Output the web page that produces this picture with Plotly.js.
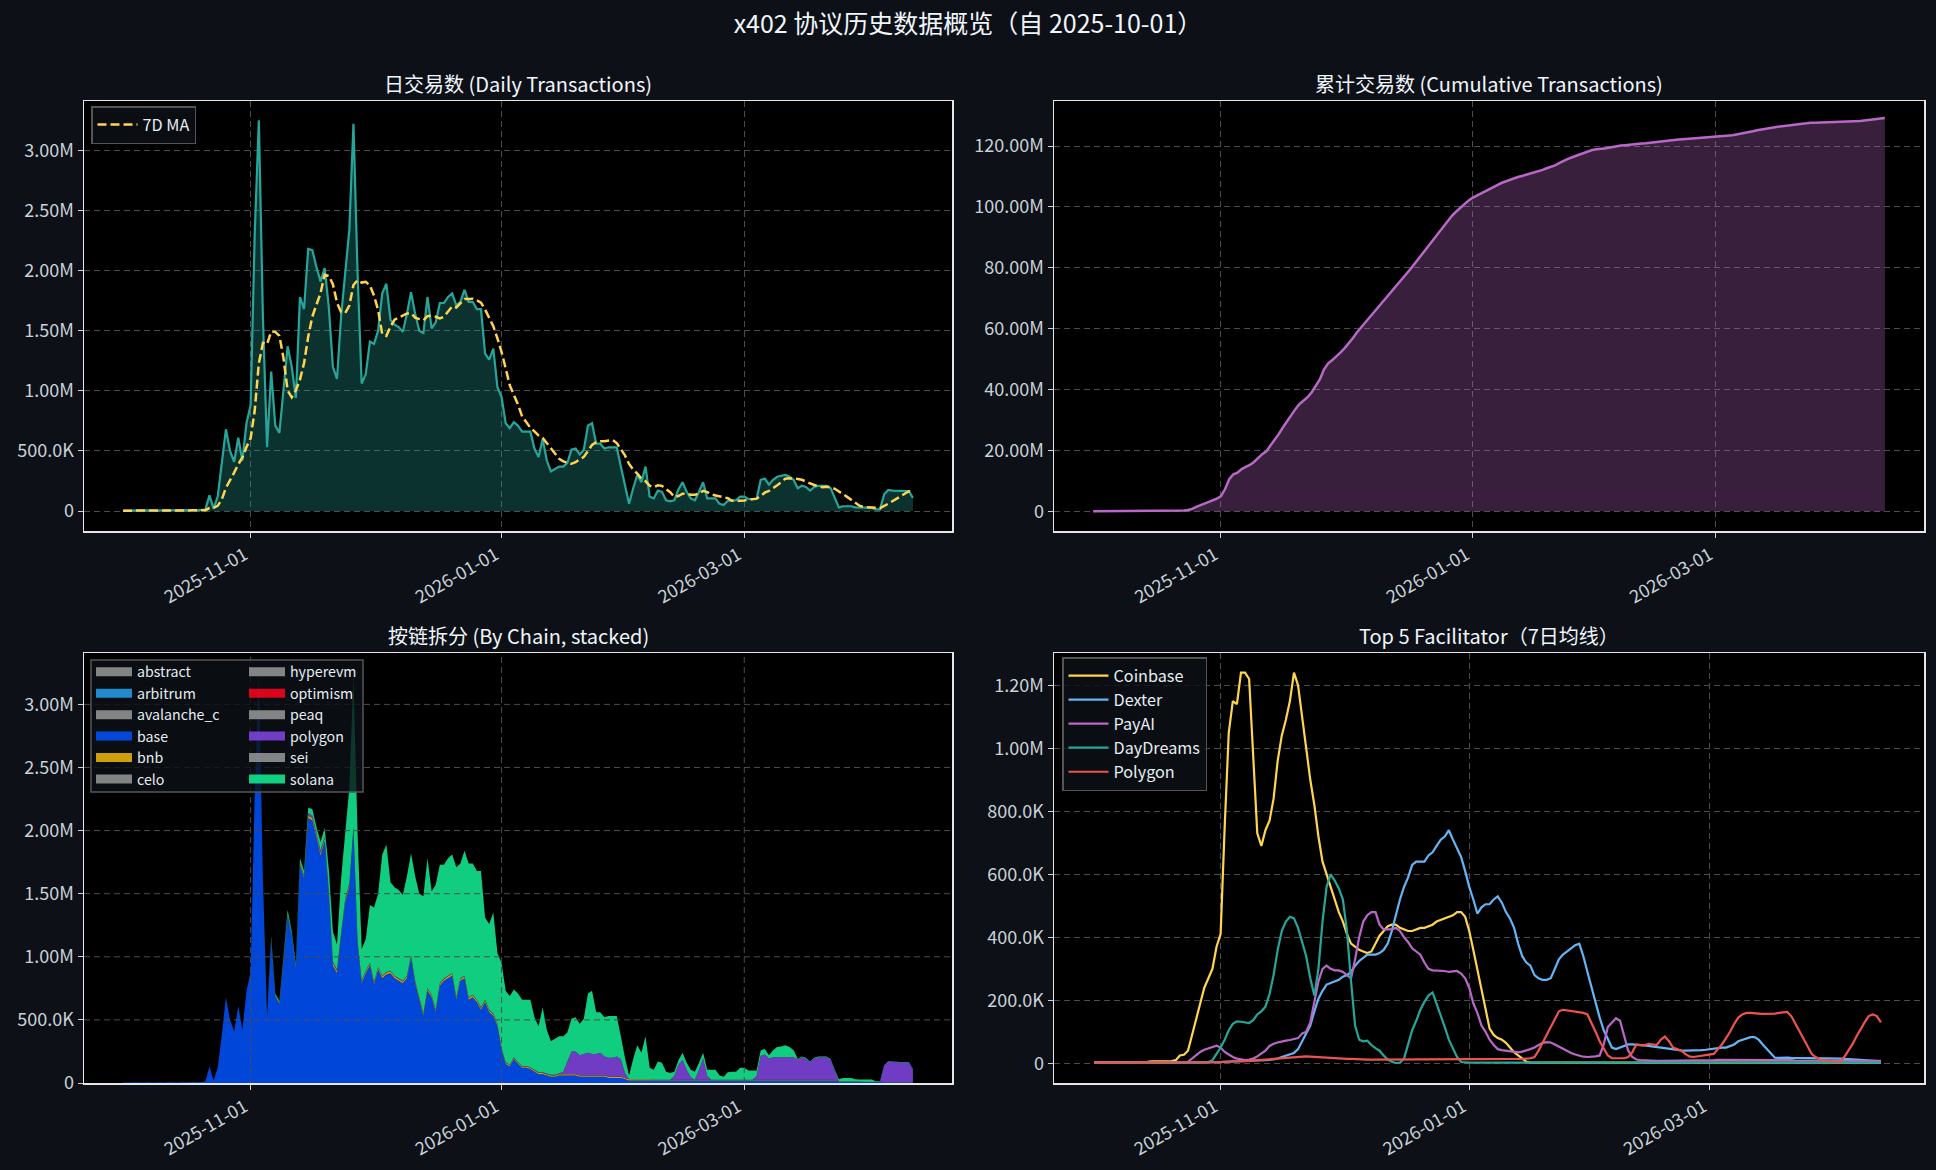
<!DOCTYPE html>
<html>
<head>
<meta charset="utf-8">
<script src="https://cdn.plot.ly/plotly-3.0.1.min.js"></script>
<style>
html,body{margin:0;padding:0;background:#0d1117;}
#chart{width:1936px;height:1170px;}
</style>
</head>
<body>
<div id="chart"></div>
<script>
// ---------------- DATA (values in millions of transactions) ----------------
const startDate = '2025-10-01';

// daily total transactions, 2025-10-01 .. 2026-04-11
const dailyTx = [
0.003,0.004,0.003,0.005,0.004,0.004,0.005,0.003,0.004,0.005,
0.004,0.006,0.005,0.004,0.006,0.005,0.006,0.007,0.006,0.008,
0.012,0.13,0.02,0.12,0.38,0.68,0.50,0.41,0.61,0.42,
0.73,0.88,2.30,3.25,1.60,0.53,1.16,0.71,0.65,1.00,
1.37,1.20,0.94,1.78,1.68,2.18,2.17,2.03,1.91,2.02,
1.70,1.20,1.10,1.62,1.98,2.34,3.22,1.98,1.06,1.14,
1.41,1.39,1.50,1.81,1.89,1.59,1.55,1.53,1.49,1.64,
1.82,1.64,1.50,1.48,1.78,1.52,1.57,1.73,1.73,1.78,
1.81,1.71,1.74,1.84,1.74,1.74,1.68,1.68,1.31,1.26,
1.35,1.03,0.95,0.73,0.69,0.74,0.71,0.66,0.66,0.66,
0.52,0.45,0.60,0.42,0.33,0.35,0.37,0.37,0.40,0.51,
0.52,0.47,0.51,0.71,0.73,0.56,0.56,0.52,0.53,0.53,
0.53,0.37,0.20,0.06,0.19,0.30,0.24,0.37,0.12,0.105,
0.17,0.16,0.09,0.08,0.09,0.18,0.24,0.16,0.105,0.09,
0.16,0.24,0.105,0.105,0.105,0.06,0.05,0.085,0.09,0.09,
0.12,0.12,0.10,0.10,0.10,0.26,0.27,0.22,0.26,0.285,
0.29,0.30,0.285,0.26,0.19,0.21,0.20,0.17,0.20,0.21,
0.21,0.21,0.19,0.105,0.03,0.04,0.04,0.04,0.03,0.028,
0.028,0.028,0.028,0.014,0.014,0.14,0.175,0.17,0.168,0.166,
0.166,0.166,0.11];

// by chain (stacked)
const baseTx = [
0.003,0.004,0.003,0.005,0.004,0.004,0.005,0.003,0.004,0.005,
0.004,0.006,0.005,0.004,0.006,0.005,0.006,0.007,0.006,0.008,
0.012,0.13,0.02,0.12,0.38,0.68,0.50,0.41,0.61,0.42,
0.73,0.88,2.30,3.23,1.58,0.52,1.14,0.69,0.63,0.97,
1.33,1.17,0.91,1.73,1.62,2.10,2.08,1.95,1.80,1.92,
1.50,0.93,0.87,1.16,1.43,1.55,2.00,1.10,0.79,0.87,
0.93,0.78,0.90,0.83,0.86,0.87,0.83,0.81,0.79,0.83,
0.99,0.79,0.66,0.53,0.73,0.68,0.56,0.77,0.81,0.83,
0.85,0.66,0.81,0.83,0.66,0.68,0.64,0.58,0.64,0.56,
0.53,0.45,0.26,0.15,0.13,0.19,0.15,0.12,0.12,0.11,
0.09,0.07,0.07,0.06,0.05,0.05,0.06,0.06,0.06,0.06,
0.06,0.05,0.05,0.05,0.05,0.05,0.05,0.05,0.04,0.04,
0.04,0.04,0.03,0.02,0.02,0.02,0.02,0.02,0.02,0.02,
0.02,0.02,0.02,0.02,0.02,0.02,0.02,0.02,0.02,0.02,
0.02,0.02,0.02,0.02,0.02,0.02,0.02,0.02,0.02,0.02,
0.02,0.02,0.02,0.02,0.02,0.02,0.02,0.02,0.02,0.02,
0.02,0.02,0.02,0.02,0.02,0.02,0.02,0.02,0.02,0.02,
0.02,0.02,0.02,0.02,0.01,0.01,0.01,0.01,0.01,0.01,
0.008,0.008,0.008,0.008,0.008,0.005,0.005,0.005,0.005,0.005,
0.005,0.005,0.005];

const bnbTx = [
0,0,0,0,0,0,0,0,0,0,
0,0,0,0,0,0,0,0,0,0,
0,0,0,0,0,0,0,0,0,0,
0,0,0,0.01,0.01,0.01,0.01,0.01,0.01,0.01,
0.01,0.01,0.01,0.015,0.015,0.02,0.02,0.02,0.02,0.02,
0.02,0.02,0.02,0.02,0.02,0.02,0.02,0.02,0.015,0.015,
0.015,0.015,0.015,0.015,0.015,0.015,0.015,0.015,0.015,0.015,
0.015,0.015,0.015,0.015,0.015,0.015,0.015,0.015,0.015,0.015,
0.015,0.015,0.015,0.015,0.015,0.015,0.015,0.015,0.015,0.015,
0.015,0.015,0.01,0.01,0.01,0.01,0.01,0.01,0.01,0.01,
0.01,0.01,0.01,0.01,0.01,0.01,0.01,0.01,0.01,0.01,
0.01,0.01,0.01,0.01,0.01,0.01,0.01,0.01,0.01,0.01,
0.01,0.01,0.01,0.01,0.01,0.01,0.01,0.01,0.01,0.005,
0.005,0.005,0.005,0.005,0.005,0.005,0.005,0.005,0.005,0.005,
0.005,0.005,0.005,0.005,0.005,0.005,0.005,0.005,0.005,0.005,
0.005,0.005,0.005,0.005,0.005,0.005,0.005,0.005,0.005,0.005,
0.005,0.005,0.005,0.005,0.005,0.005,0.005,0.005,0.005,0.005,
0.005,0.005,0.005,0.005,0.002,0.002,0.002,0.002,0.002,0.002,
0.002,0.002,0.002,0.002,0.002,0.002,0.002,0.002,0.002,0.002,
0.002,0.002,0.002];

const polygonTx = [
0,0,0,0,0,0,0,0,0,0,
0,0,0,0,0,0,0,0,0,0,
0,0,0,0,0,0,0,0,0,0,
0,0,0,0,0,0,0,0,0,0,
0,0,0,0,0.01,0.02,0.02,0.01,0.02,0.01,
0.01,0.01,0.01,0.01,0.01,0.01,0.01,0.01,0.005,0.005,
0.005,0.005,0.005,0.005,0.005,0.005,0.005,0.005,0.005,0.005,
0.005,0.005,0.005,0.005,0.005,0.005,0.005,0.005,0.005,0.005,
0.005,0.005,0.005,0.005,0.005,0.005,0.005,0.005,0.005,0.005,
0.005,0.005,0.005,0.005,0.005,0.005,0.005,0.005,0.005,0.005,
0.005,0.005,0.005,0.005,0.005,0.005,0.005,0.02,0.10,0.18,
0.18,0.16,0.17,0.18,0.17,0.17,0.18,0.15,0.15,0.15,
0.16,0.14,0.04,0,0,0,0,0,0,0,
0,0,0,0,0.03,0.12,0.16,0.08,0.02,0,
0.08,0.17,0.03,0,0,0,0,0,0,0,
0,0,0,0,0.03,0.19,0.20,0.17,0.18,0.18,
0.18,0.18,0.18,0.18,0.16,0.18,0.17,0.14,0.17,0.18,
0.18,0.18,0.16,0.07,0,0,0,0,0,0,
0,0,0,0,0,0.13,0.165,0.16,0.158,0.156,
0.156,0.156,0.10];

const solanaTx = [
0,0,0,0,0,0,0,0,0,0,
0,0,0,0,0,0,0,0,0,0,
0,0,0,0,0,0,0,0,0,0,
0,0,0,0.01,0.01,0,0.01,0.01,0.01,0.02,
0.03,0.02,0.02,0.035,0.035,0.04,0.05,0.05,0.07,0.07,
0.17,0.24,0.20,0.43,0.52,0.76,1.19,0.85,0.25,0.25,
0.46,0.59,0.58,0.96,1.01,0.70,0.70,0.70,0.68,0.79,
0.81,0.83,0.82,0.93,1.03,0.82,0.99,0.94,0.90,0.93,
0.94,1.03,0.91,0.99,1.06,1.04,1.02,1.08,0.65,0.68,
0.80,0.56,0.675,0.565,0.545,0.535,0.545,0.525,0.525,0.535,
0.415,0.365,0.515,0.345,0.265,0.285,0.295,0.28,0.23,0.26,
0.27,0.25,0.28,0.47,0.50,0.33,0.32,0.31,0.33,0.33,
0.32,0.18,0.12,0.03,0.16,0.27,0.21,0.34,0.09,0.08,
0.145,0.135,0.065,0.055,0.035,0.035,0.055,0.055,0.06,0.065,
0.055,0.045,0.05,0.08,0.08,0.035,0.025,0.06,0.065,0.065,
0.095,0.095,0.075,0.075,0.045,0.045,0.045,0.025,0.055,0.08,
0.085,0.095,0.08,0.055,0.005,0.005,0.005,0.005,0.005,0.005,
0.005,0.005,0.005,0.01,0.018,0.028,0.028,0.028,0.018,0.016,
0.018,0.018,0.018,0.004,0.004,0.003,0.003,0.003,0.003,0.003,
0.003,0.003,0.003];

// chains with negligible volume
const abstractTx   = [0,0,0,0,0,0,0,0,0,0,0,0,0,0,0,0,0,0,0,0,0,0,0,0,0,0,0,0,0,0,0,0,0,0,0,0,0,0,0,0,0,0,0,0,0,0,0,0,0,0,0,0,0,0,0,0,0,0,0,0,0,0,0,0,0,0,0,0,0,0,0,0,0,0,0,0,0,0,0,0,0,0,0,0,0,0,0,0,0,0,0,0,0,0,0,0,0,0,0,0,0,0,0,0,0,0,0,0,0,0,0,0,0,0,0,0,0,0,0,0,0,0,0,0,0,0,0,0,0,0,0,0,0,0,0,0,0,0,0,0,0,0,0,0,0,0,0,0,0,0,0,0,0,0,0,0,0,0,0,0,0,0,0,0,0,0,0,0,0,0,0,0,0,0,0,0,0,0,0,0,0,0,0,0,0,0,0,0,0,0,0,0,0];
const arbitrumTx   = [0,0,0,0,0,0,0,0,0,0,0,0,0,0,0,0,0,0,0,0,0,0,0,0,0,0,0,0,0,0,0,0,0,0,0,0,0,0,0,0,0,0,0,0,0,0,0,0,0,0,0,0,0,0,0,0,0,0,0,0,0,0,0,0,0,0,0,0,0,0,0,0,0,0,0,0,0,0,0,0,0,0,0,0,0,0,0,0,0,0,0,0,0,0,0,0,0,0,0,0,0,0,0,0,0,0,0,0,0,0,0,0,0,0,0,0,0,0,0,0,0,0,0,0,0,0,0,0,0,0,0,0,0,0,0,0,0,0,0,0,0,0,0,0,0,0,0,0,0,0,0,0,0,0,0,0,0,0,0,0,0,0,0,0,0,0,0,0,0,0,0,0,0,0,0,0,0,0,0,0,0,0,0,0,0,0,0,0,0,0,0,0,0];
const avalancheTx  = [0,0,0,0,0,0,0,0,0,0,0,0,0,0,0,0,0,0,0,0,0,0,0,0,0,0,0,0,0,0,0,0,0,0,0,0,0,0,0,0,0,0,0,0,0,0,0,0,0,0,0,0,0,0,0,0,0,0,0,0,0,0,0,0,0,0,0,0,0,0,0,0,0,0,0,0,0,0,0,0,0,0,0,0,0,0,0,0,0,0,0,0,0,0,0,0,0,0,0,0,0,0,0,0,0,0,0,0,0,0,0,0,0,0,0,0,0,0,0,0,0,0,0,0,0,0,0,0,0,0,0,0,0,0,0,0,0,0,0,0,0,0,0,0,0,0,0,0,0,0,0,0,0,0,0,0,0,0,0,0,0,0,0,0,0,0,0,0,0,0,0,0,0,0,0,0,0,0,0,0,0,0,0,0,0,0,0,0,0,0,0,0,0];
const celoTx       = [0,0,0,0,0,0,0,0,0,0,0,0,0,0,0,0,0,0,0,0,0,0,0,0,0,0,0,0,0,0,0,0,0,0,0,0,0,0,0,0,0,0,0,0,0,0,0,0,0,0,0,0,0,0,0,0,0,0,0,0,0,0,0,0,0,0,0,0,0,0,0,0,0,0,0,0,0,0,0,0,0,0,0,0,0,0,0,0,0,0,0,0,0,0,0,0,0,0,0,0,0,0,0,0,0,0,0,0,0,0,0,0,0,0,0,0,0,0,0,0,0,0,0,0,0,0,0,0,0,0,0,0,0,0,0,0,0,0,0,0,0,0,0,0,0,0,0,0,0,0,0,0,0,0,0,0,0,0,0,0,0,0,0,0,0,0,0,0,0,0,0,0,0,0,0,0,0,0,0,0,0,0,0,0,0,0,0,0,0,0,0,0,0];
const hyperevmTx   = [0,0,0,0,0,0,0,0,0,0,0,0,0,0,0,0,0,0,0,0,0,0,0,0,0,0,0,0,0,0,0,0,0,0,0,0,0,0,0,0,0,0,0,0,0,0,0,0,0,0,0,0,0,0,0,0,0,0,0,0,0,0,0,0,0,0,0,0,0,0,0,0,0,0,0,0,0,0,0,0,0,0,0,0,0,0,0,0,0,0,0,0,0,0,0,0,0,0,0,0,0,0,0,0,0,0,0,0,0,0,0,0,0,0,0,0,0,0,0,0,0,0,0,0,0,0,0,0,0,0,0,0,0,0,0,0,0,0,0,0,0,0,0,0,0,0,0,0,0,0,0,0,0,0,0,0,0,0,0,0,0,0,0,0,0,0,0,0,0,0,0,0,0,0,0,0,0,0,0,0,0,0,0,0,0,0,0,0,0,0,0,0,0];
const optimismTx   = [0,0,0,0,0,0,0,0,0,0,0,0,0,0,0,0,0,0,0,0,0,0,0,0,0,0,0,0,0,0,0,0,0,0,0,0,0,0,0,0,0,0,0,0,0,0,0,0,0,0,0,0,0,0,0,0,0,0,0,0,0,0,0,0,0,0,0,0,0,0,0,0,0,0,0,0,0,0,0,0,0,0,0,0,0,0,0,0,0,0,0,0,0,0,0,0,0,0,0,0,0,0,0,0,0,0,0,0,0,0,0,0,0,0,0,0,0,0,0,0,0,0,0,0,0,0,0,0,0,0,0,0,0,0,0,0,0,0,0,0,0,0,0,0,0,0,0,0,0,0,0,0,0,0,0,0,0,0,0,0,0,0,0,0,0,0,0,0,0,0,0,0,0,0,0,0,0,0,0,0,0,0,0,0,0,0,0,0,0,0,0,0,0];
const peaqTx       = [0,0,0,0,0,0,0,0,0,0,0,0,0,0,0,0,0,0,0,0,0,0,0,0,0,0,0,0,0,0,0,0,0,0,0,0,0,0,0,0,0,0,0,0,0,0,0,0,0,0,0,0,0,0,0,0,0,0,0,0,0,0,0,0,0,0,0,0,0,0,0,0,0,0,0,0,0,0,0,0,0,0,0,0,0,0,0,0,0,0,0,0,0,0,0,0,0,0,0,0,0,0,0,0,0,0,0,0,0,0,0,0,0,0,0,0,0,0,0,0,0,0,0,0,0,0,0,0,0,0,0,0,0,0,0,0,0,0,0,0,0,0,0,0,0,0,0,0,0,0,0,0,0,0,0,0,0,0,0,0,0,0,0,0,0,0,0,0,0,0,0,0,0,0,0,0,0,0,0,0,0,0,0,0,0,0,0,0,0,0,0,0,0];
const seiTx        = [0,0,0,0,0,0,0,0,0,0,0,0,0,0,0,0,0,0,0,0,0,0,0,0,0,0,0,0,0,0,0,0,0,0,0,0,0,0,0,0,0,0,0,0,0,0,0,0,0,0,0,0,0,0,0,0,0,0,0,0,0,0,0,0,0,0,0,0,0,0,0,0,0,0,0,0,0,0,0,0,0,0,0,0,0,0,0,0,0,0,0,0,0,0,0,0,0,0,0,0,0,0,0,0,0,0,0,0,0,0,0,0,0,0,0,0,0,0,0,0,0,0,0,0,0,0,0,0,0,0,0,0,0,0,0,0,0,0,0,0,0,0,0,0,0,0,0,0,0,0,0,0,0,0,0,0,0,0,0,0,0,0,0,0,0,0,0,0,0,0,0,0,0,0,0,0,0,0,0,0,0,0,0,0,0,0,0,0,0,0,0,0,0];

// Top-5 facilitators, 7-day moving average, 2025-10-01 .. 2026-04-12
const coinbaseMA = [
0.003,0.003,0.004,0.004,0.004,0.004,0.005,0.005,0.005,0.005,
0.005,0.005,0.005,0.005,0.006,0.006,0.006,0.006,0.006,0.007,
0.01,0.025,0.027,0.04,0.09,0.14,0.19,0.24,0.27,0.30,
0.37,0.41,0.75,1.05,1.15,1.14,1.24,1.24,1.22,0.99,
0.73,0.69,0.74,0.77,0.84,0.96,1.04,1.09,1.15,1.24,
1.20,1.10,0.99,0.90,0.82,0.72,0.64,0.60,0.56,0.52,
0.48,0.45,0.41,0.38,0.37,0.36,0.355,0.35,0.355,0.38,
0.405,0.42,0.435,0.44,0.44,0.43,0.425,0.42,0.42,0.425,
0.43,0.43,0.435,0.44,0.45,0.455,0.46,0.465,0.47,0.48,
0.48,0.465,0.42,0.36,0.30,0.235,0.17,0.11,0.09,0.08,
0.075,0.065,0.05,0.035,0.025,0.014,0.005,0.002,0.002,0.002,
0.002,0.002,0.002,0.002,0.002,0.002,0.002,0.002,0.002,0.002,
0.002,0.002,0.002,0.002,0.002,0.002,0.002,0.002,0.002,0.002,
0.002,0.002,0.002,0.002,0.002,0.002,0.002,0.002,0.002,0.002,
0.002,0.002,0.002,0.002,0.002,0.002,0.002,0.002,0.002,0.002,
0.002,0.002,0.002,0.002,0.002,0.002,0.002,0.002,0.002,0.002,
0.002,0.002,0.002,0.002,0.002,0.002,0.002,0.002,0.002,0.002,
0.002,0.002,0.002,0.002,0.002,0.002,0.002,0.002,0.002,0.002,
0.002,0.002,0.002,0.002,0.002,0.002,0.002,0.002,0.002,0.002,
0.002,0.002,0.002,0.002];

const dexterMA = [
0.002,0.002,0.002,0.002,0.002,0.002,0.002,0.002,0.002,0.002,
0.002,0.002,0.002,0.002,0.002,0.002,0.002,0.002,0.002,0.002,
0.002,0.002,0.002,0.002,0.003,0.003,0.003,0.003,0.003,0.003,
0.004,0.004,0.005,0.005,0.006,0.007,0.007,0.008,0.008,0.008,
0.009,0.01,0.01,0.011,0.012,0.015,0.02,0.025,0.03,0.033,
0.045,0.07,0.10,0.12,0.165,0.205,0.23,0.25,0.255,0.26,
0.265,0.275,0.28,0.29,0.31,0.325,0.335,0.345,0.345,0.345,
0.35,0.36,0.38,0.42,0.47,0.52,0.56,0.59,0.63,0.64,
0.64,0.64,0.66,0.67,0.69,0.71,0.72,0.74,0.71,0.685,
0.655,0.61,0.56,0.52,0.475,0.495,0.505,0.505,0.52,0.53,
0.51,0.48,0.46,0.43,0.38,0.34,0.32,0.31,0.28,0.27,
0.265,0.265,0.27,0.30,0.33,0.345,0.355,0.365,0.375,0.38,
0.34,0.29,0.24,0.19,0.145,0.105,0.075,0.05,0.045,0.05,
0.055,0.06,0.06,0.06,0.058,0.057,0.055,0.055,0.053,0.05,
0.048,0.045,0.044,0.043,0.041,0.04,0.04,0.04,0.04,0.042,
0.043,0.045,0.048,0.05,0.05,0.05,0.055,0.06,0.07,0.075,
0.08,0.083,0.083,0.075,0.06,0.045,0.03,0.018,0.017,0.018,
0.018,0.017,0.017,0.017,0.017,0.017,0.017,0.016,0.016,0.016,
0.016,0.015,0.015,0.015,0.014,0.014,0.013,0.012,0.011,0.01,
0.009,0.008,0.007,0.006];

const payaiMA = [
0.002,0.002,0.002,0.002,0.002,0.002,0.002,0.002,0.002,0.002,
0.002,0.002,0.002,0.002,0.002,0.002,0.002,0.002,0.002,0.002,
0.002,0.002,0.002,0.005,0.015,0.025,0.036,0.043,0.048,0.052,
0.056,0.05,0.036,0.028,0.02,0.015,0.012,0.01,0.012,0.015,
0.022,0.03,0.04,0.055,0.062,0.066,0.07,0.072,0.074,0.076,
0.08,0.095,0.10,0.13,0.19,0.26,0.30,0.31,0.30,0.295,
0.295,0.29,0.28,0.27,0.33,0.40,0.45,0.47,0.48,0.48,
0.44,0.425,0.425,0.425,0.43,0.42,0.40,0.385,0.365,0.355,
0.345,0.32,0.30,0.295,0.295,0.295,0.293,0.29,0.292,0.293,
0.285,0.27,0.24,0.19,0.16,0.12,0.10,0.075,0.058,0.045,
0.042,0.04,0.038,0.036,0.035,0.037,0.04,0.045,0.05,0.058,
0.065,0.067,0.066,0.06,0.053,0.048,0.04,0.033,0.028,0.024,
0.021,0.02,0.02,0.022,0.025,0.06,0.115,0.13,0.143,0.135,
0.09,0.04,0.02,0.012,0.01,0.009,0.008,0.008,0.008,0.008,
0.008,0.009,0.009,0.01,0.01,0.01,0.01,0.009,0.009,0.009,
0.009,0.01,0.01,0.011,0.011,0.012,0.012,0.012,0.012,0.012,
0.012,0.012,0.012,0.011,0.011,0.011,0.01,0.01,0.01,0.01,
0.01,0.01,0.009,0.009,0.009,0.009,0.009,0.009,0.009,0.009,
0.009,0.009,0.009,0.009,0.009,0.009,0.009,0.009,0.008,0.008,
0.008,0.008,0.008,0.008];

const daydreamsMA = [
0.001,0.001,0.001,0.001,0.001,0.001,0.001,0.001,0.001,0.001,
0.001,0.001,0.001,0.001,0.001,0.001,0.001,0.001,0.001,0.001,
0.001,0.001,0.001,0.001,0.001,0.001,0.001,0.002,0.004,0.01,
0.03,0.05,0.075,0.105,0.125,0.133,0.132,0.129,0.128,0.137,
0.155,0.165,0.18,0.22,0.28,0.36,0.42,0.45,0.465,0.46,
0.43,0.385,0.34,0.27,0.215,0.30,0.45,0.56,0.60,0.58,
0.555,0.52,0.42,0.26,0.12,0.075,0.07,0.072,0.058,0.048,
0.04,0.025,0.012,0.005,0.001,0.002,0.015,0.06,0.105,0.135,
0.17,0.195,0.215,0.225,0.19,0.155,0.115,0.075,0.045,0.02,
0.004,0.002,0.002,0.002,0.002,0.002,0.002,0.002,0.002,0.002,
0.002,0.002,0.002,0.002,0.002,0.002,0.002,0.002,0.002,0.002,
0.002,0.002,0.002,0.002,0.002,0.002,0.002,0.002,0.002,0.002,
0.002,0.002,0.002,0.002,0.002,0.002,0.002,0.002,0.002,0.002,
0.002,0.002,0.002,0.002,0.002,0.002,0.002,0.002,0.002,0.002,
0.002,0.002,0.002,0.002,0.002,0.002,0.002,0.002,0.002,0.002,
0.002,0.002,0.002,0.002,0.002,0.002,0.002,0.002,0.002,0.002,
0.002,0.002,0.002,0.002,0.002,0.002,0.002,0.002,0.002,0.002,
0.002,0.002,0.002,0.002,0.002,0.002,0.002,0.002,0.002,0.002,
0.002,0.002,0.002,0.002,0.002,0.002,0.002,0.002,0.002,0.002,
0.002,0.002,0.002,0.002];

const polygonMA = [
0.002,0.002,0.002,0.002,0.002,0.002,0.002,0.002,0.002,0.002,
0.002,0.002,0.002,0.002,0.002,0.002,0.002,0.002,0.002,0.002,
0.002,0.002,0.002,0.002,0.002,0.002,0.002,0.002,0.002,0.002,
0.003,0.004,0.005,0.005,0.006,0.006,0.007,0.007,0.008,0.009,
0.01,0.011,0.012,0.013,0.014,0.015,0.017,0.018,0.02,0.021,
0.022,0.023,0.022,0.021,0.02,0.019,0.018,0.017,0.016,0.016,
0.015,0.015,0.014,0.014,0.013,0.013,0.013,0.012,0.012,0.012,
0.012,0.012,0.012,0.012,0.012,0.012,0.012,0.012,0.013,0.013,
0.013,0.013,0.013,0.013,0.013,0.013,0.013,0.013,0.013,0.013,
0.013,0.013,0.013,0.013,0.013,0.013,0.013,0.013,0.013,0.013,
0.013,0.013,0.013,0.013,0.013,0.014,0.015,0.016,0.02,0.04,
0.065,0.09,0.115,0.14,0.165,0.17,0.168,0.165,0.165,0.163,
0.16,0.155,0.13,0.10,0.07,0.045,0.025,0.016,0.015,0.016,
0.016,0.02,0.035,0.06,0.058,0.057,0.062,0.06,0.058,0.075,
0.085,0.07,0.05,0.045,0.04,0.03,0.022,0.02,0.021,0.024,
0.026,0.028,0.03,0.045,0.06,0.08,0.10,0.125,0.145,0.155,
0.16,0.16,0.158,0.158,0.157,0.157,0.158,0.158,0.16,0.162,
0.163,0.15,0.125,0.10,0.075,0.05,0.03,0.02,0.012,0.01,
0.008,0.006,0.005,0.005,0.02,0.04,0.06,0.085,0.11,0.13,
0.15,0.155,0.15,0.13];

// ticks
const dateTickVals = ['2025-11-01', '2026-01-01', '2026-03-01'];
const dateTickText = ['2025-11-01', '2026-01-01', '2026-03-01'];
const dailyTickVals = [0, 0.5, 1, 1.5, 2, 2.5, 3];
const dailyTickText = ['0', '500.0K', '1.00M', '1.50M', '2.00M', '2.50M', '3.00M'];
const cumTickVals = [0, 20, 40, 60, 80, 100, 120];
const cumTickText = ['0', '20.00M', '40.00M', '60.00M', '80.00M', '100.00M', '120.00M'];
const facTickVals = [0, 0.2, 0.4, 0.6, 0.8, 1.0, 1.2];
const facTickText = ['0', '200.0K', '400.0K', '600.0K', '800.0K', '1.00M', '1.20M'];

const chainNames = ['abstract','arbitrum','avalanche_c','base','bnb','celo','hyperevm','optimism','peaq','polygon','sei','solana'];
const chainSeries = [abstractTx, arbitrumTx, avalancheTx, baseTx, bnbTx, celoTx, hyperevmTx, optimismTx, peaqTx, polygonTx, seiTx, solanaTx];
const facNames = ['Coinbase','Dexter','PayAI','DayDreams','Polygon'];
const facSeries = [coinbaseMA, dexterMA, payaiMA, daydreamsMA, polygonMA];

// ---------------- STYLE ----------------
const FONT = 'Noto Sans CJK SC, Noto Sans, sans-serif';
const TXT = '#c9d1d9';
const chainColors = ['rgba(153,153,153,0.85)','rgba(40,160,240,0.85)','rgba(153,153,153,0.85)','rgba(0,82,255,0.85)',
  'rgba(240,185,11,0.85)','rgba(153,153,153,0.85)','rgba(153,153,153,0.85)','rgba(255,4,32,0.85)',
  'rgba(153,153,153,0.85)','rgba(130,71,229,0.85)','rgba(153,153,153,0.85)','rgba(20,241,149,0.85)'];
const facColors = ['#FFD54F','#64B5F6','#BA68C8','#26A69A','#EF5350'];

function dayStr(i) {
  const p = startDate.split('-').map(Number);
  const d = new Date(Date.UTC(p[0], p[1] - 1, p[2] + i));
  return d.toISOString().slice(0, 10);
}
const dates = dailyTx.map((_, i) => dayStr(i));
const facDates = coinbaseMA.map((_, i) => dayStr(i));
const ma7 = dailyTx.map((_, i) => {
  const s = dailyTx.slice(Math.max(0, i - 6), i + 1);
  return s.reduce((a, b) => a + b, 0) / s.length;
});
const cumTx = [];
dailyTx.reduce((acc, v, i) => { cumTx[i] = acc + v; return cumTx[i]; }, 0);

const traces = [];
traces.push({x: dates, y: dailyTx, xaxis: 'x', yaxis: 'y', type: 'scatter', mode: 'lines',
  line: {color: '#26A69A', width: 2.2}, fill: 'tozeroy', fillcolor: 'rgba(38,166,154,0.3)',
  showlegend: false, name: 'Daily', hoverinfo: 'skip'});
traces.push({x: dates, y: ma7, xaxis: 'x', yaxis: 'y', type: 'scatter', mode: 'lines',
  line: {color: '#FFD54F', width: 2.5, dash: '9px,4px'}, name: '7D MA', legend: 'legend', hoverinfo: 'skip'});
traces.push({x: dates, y: cumTx, xaxis: 'x2', yaxis: 'y2', type: 'scatter', mode: 'lines',
  line: {color: '#BA68C8', width: 2.5}, fill: 'tozeroy', fillcolor: 'rgba(186,104,200,0.3)',
  showlegend: false, name: 'Cumulative', hoverinfo: 'skip'});
chainNames.forEach((n, i) => {
  traces.push({x: dates, y: chainSeries[i], xaxis: 'x3', yaxis: 'y3', type: 'scatter', mode: 'none',
    stackgroup: 'chain', fillcolor: chainColors[i], name: n, showlegend: false, hoverinfo: 'skip'});
});
chainNames.forEach((n, i) => {
  traces.push({x: [null], y: [null], xaxis: 'x3', yaxis: 'y3', type: 'scatter', mode: 'lines',
    line: {color: chainColors[i], width: 9}, name: n, legend: i < 6 ? 'legend2' : 'legend3', hoverinfo: 'skip'});
});
facNames.forEach((n, i) => {
  traces.push({x: facDates, y: facSeries[i], xaxis: 'x4', yaxis: 'y4', type: 'scatter', mode: 'lines',
    line: {color: facColors[i], width: 2.2}, name: n, legend: 'legend4', hoverinfo: 'skip'});
});

const W = 1936, H = 1170;
const px = v => v / W, py = v => 1 - v / H;
const rangeA = ['2025-09-21 12:00', '2026-04-20 12:00'];
const rangeB = ['2025-09-21 03:00', '2026-04-22 13:40'];
const colL = [px(84), px(952)], colR = [px(1054), px(1924)];
const rowT = [py(531), py(101)], rowB = [py(1083), py(653)];

const axBase = {
  showline: true, mirror: true, linecolor: '#e6e6e6', linewidth: 1.5,
  ticks: 'outside', ticklen: 5, tickwidth: 1, tickcolor: TXT,
  showgrid: true, gridcolor: '#4d4d4d', griddash: '6px,4px', gridwidth: 1,
  zeroline: false, fixedrange: true,
  tickfont: {family: FONT, size: 18, color: TXT}
};
const xAx = (dom, anchor, range, grid) => Object.assign({}, axBase, {
  domain: dom, anchor: anchor, type: 'date', range: range, showgrid: grid,
  tickmode: 'array', tickvals: dateTickVals, ticktext: dateTickText, tickangle: -30,
  ticklabelshift: -6
});
const yAx = (dom, anchor, range, tv, tt, grid) => Object.assign({}, axBase, {
  domain: dom, anchor: anchor, range: range, showgrid: grid,
  tickmode: 'array', tickvals: tv, ticktext: tt
});

// grid lines drawn above the stacked areas (like matplotlib)
const gridShapes = [];
dailyTickVals.slice(1).forEach(v => gridShapes.push({type: 'line', xref: 'x3 domain', yref: 'y3', x0: 0, x1: 1, y0: v, y1: v,
  line: {color: '#4d4d4d', width: 1, dash: '6px,4px'}, layer: 'above'}));
dateTickVals.forEach(v => gridShapes.push({type: 'line', xref: 'x3', yref: 'y3 domain', x0: v, x1: v, y0: 0, y1: 1,
  line: {color: '#4d4d4d', width: 1, dash: '6px,4px'}, layer: 'above'}));
gridShapes.push({type: 'rect', xref: 'paper', yref: 'paper', x0: px(91), x1: px(363), y0: py(792), y1: py(660),
  fillcolor: 'rgba(13,17,23,0.8)', line: {color: '#555555', width: 1.5}, layer: 'above'});

const titleFont = {family: FONT, size: 20, color: '#f0f6fc'};
const legFont = {family: FONT, size: 16.2, color: '#e6edf3'};
const smallLegFont = {family: FONT, size: 14.2, color: '#e6edf3'};

const layout = {
  width: W, height: H,
  paper_bgcolor: '#0d1117', plot_bgcolor: '#000000',
  margin: {l: 0, r: 0, t: 0, b: 0},
  font: {family: FONT, color: TXT, size: 18},
  hovermode: false,
  title: {text: 'x402 协议历史数据概览（自 2025-10-01）', x: 0.5, xanchor: 'center', xref: 'paper',
    y: py(24), yanchor: 'middle', yref: 'container', font: {family: FONT, size: 25, color: '#f0f6fc'}},
  xaxis: xAx(colL, 'y', rangeA, true),
  yaxis: yAx(rowT, 'x', [-0.166, 3.41], dailyTickVals, dailyTickText, true),
  xaxis2: xAx(colR, 'y2', rangeA, true),
  yaxis2: yAx(rowT, 'x2', [-6.5, 134.8], cumTickVals, cumTickText, true),
  xaxis3: xAx(colL, 'y3', rangeA, false),
  yaxis3: yAx(rowB, 'x3', [0, 3.407], dailyTickVals, dailyTickText, false),
  xaxis4: xAx(colR, 'y4', rangeB, true),
  yaxis4: yAx(rowB, 'x4', [-0.0625, 1.3025], facTickVals, facTickText, true),
  shapes: gridShapes,
  annotations: [
    {text: '日交易数 (Daily Transactions)', x: (colL[0] + colL[1]) / 2, y: py(84), xref: 'paper', yref: 'paper', showarrow: false, xanchor: 'center', yanchor: 'middle', font: titleFont},
    {text: '累计交易数 (Cumulative Transactions)', x: (colR[0] + colR[1]) / 2, y: py(84), xref: 'paper', yref: 'paper', showarrow: false, xanchor: 'center', yanchor: 'middle', font: titleFont},
    {text: '按链拆分 (By Chain, stacked)', x: (colL[0] + colL[1]) / 2, y: py(635), xref: 'paper', yref: 'paper', showarrow: false, xanchor: 'center', yanchor: 'middle', font: titleFont},
    {text: 'Top 5 Facilitator（7日均线）', x: (colR[0] + colR[1]) / 2, y: py(635), xref: 'paper', yref: 'paper', showarrow: false, xanchor: 'center', yanchor: 'middle', font: titleFont}
  ],
  legend: {x: px(91), y: py(106), xanchor: 'left', yanchor: 'top', bgcolor: 'rgba(13,17,23,0.8)',
    bordercolor: '#555555', borderwidth: 1.5, font: legFont, traceorder: 'normal', itemwidth: 40},
  legend2: {x: px(91), y: py(656), xanchor: 'left', yanchor: 'top', bgcolor: 'rgba(0,0,0,0)',
    borderwidth: 0, font: smallLegFont, traceorder: 'normal', itemwidth: 36},
  legend3: {x: px(244), y: py(656), xanchor: 'left', yanchor: 'top', bgcolor: 'rgba(0,0,0,0)',
    borderwidth: 0, font: smallLegFont, traceorder: 'normal', itemwidth: 36},
  legend4: {x: px(1062), y: py(657), xanchor: 'left', yanchor: 'top', bgcolor: 'rgba(13,17,23,0.8)',
    bordercolor: '#555555', borderwidth: 1.5, font: legFont, traceorder: 'normal', itemwidth: 40}
};

Plotly.newPlot('chart', traces, layout, {displayModeBar: false, staticPlot: true});
</script>
</body>
</html>
